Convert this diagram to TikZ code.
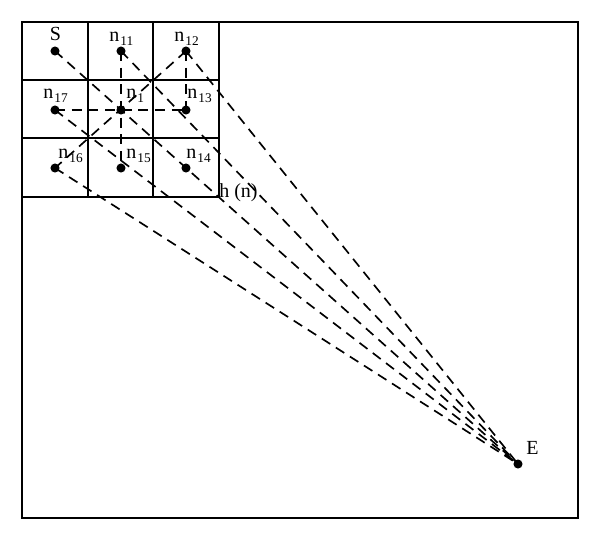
\documentclass[tikz,border=0pt]{standalone}
\usepackage{fontspec}
\setmainfont{Liberation Serif}
\begin{document}
\begin{tikzpicture}[x=0.75pt,y=-0.75pt,
  frame/.style={line width=1.2pt},
  gridline/.style={line width=1.2pt},
  dashline/.style={line width=1.25pt,dash pattern=on 7.5pt off 5pt},
  pt/.style={circle,fill=black,inner sep=0pt,minimum size=6.8pt},
  lab/.style={inner sep=0pt,anchor=base west,font=\fontsize{15}{15}\selectfont}]
\newcommand\subn[1]{n\kern0.8pt\raisebox{-3pt}{\fontsize{10}{10}\selectfont #1}}
\useasboundingbox (0,0) rectangle (600,540);
\draw[frame] (22,22) rectangle (578,518);
% grid
\draw[gridline] (22,22) rectangle (219,197);
\draw[gridline] (88,22) -- (88,197) (153,22) -- (153,197)
                (22,80) -- (219,80) (22,138) -- (219,138);
% points
\node[pt] (S) at (55,51) {};
\node[pt] (n11) at (121,51) {};
\node[pt] (n12) at (186,51) {};
\node[pt] (n17) at (55,110) {};
\node[pt] (n1) at (121,110) {};
\node[pt] (n13) at (186,110) {};
\node[pt] (n16) at (55,168) {};
\node[pt] (n15) at (121,168) {};
\node[pt] (n14) at (186,168) {};
\node[pt] (E) at (518,464) {};
% connectors
\draw[dashline] (n17.center) -- (n13.center);
\draw[dashline] (n11.center) -- (n15.center);
\draw[dashline] (n12.center) -- (n13.center);
\draw[dashline] (n12.center) -- (n16.center);
\draw[dashline] (S.center) -- (E.center);
\draw[dashline] (n11.center) -- (E.center);
\draw[dashline] (n12.center) -- (E.center);
\draw[dashline] (n17.center) -- (E.center);
\draw[dashline] (n16.center) -- (E.center);
% labels
\node[lab] (lS) at (49.5,40) {S};
\node[lab] (l11) at (109,41.5) {\subn{11}};
\node[lab] (l12) at (174,41.5) {\subn{12}};
\node[lab] (l17) at (43,98) {\subn{17}};
\node[lab] (l1) at (126,98) {\subn{1}};
\node[lab] (l13) at (187,98) {\subn{13}};
\node[lab] (l16) at (58,158) {\subn{16}};
\node[lab] (l15) at (126,158) {\subn{15}};
\node[lab] (l14) at (186,158) {\subn{14}};
\node[lab] (lh) at (219,197) {h (n)};
\node[lab] (lE) at (526,454) {E};
\end{tikzpicture}
\end{document}
